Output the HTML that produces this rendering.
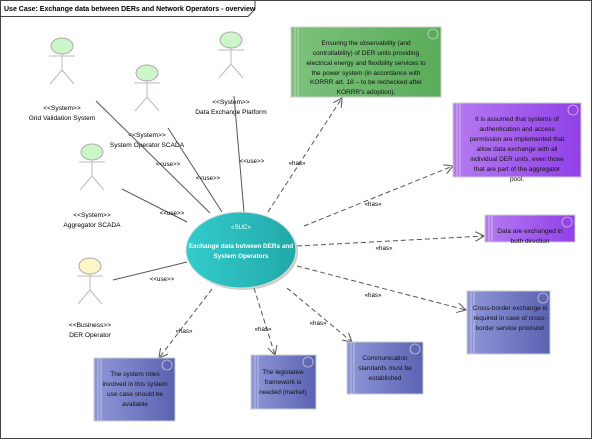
<!DOCTYPE html>
<html><head><meta charset="utf-8"><style>
html,body{margin:0;padding:0;background:#fff;}
svg{display:block;font-family:"Liberation Sans",sans-serif;}
.s{font-size:6.6px;fill:#000;text-anchor:middle;}
.b{font-size:6.5px;fill:#111;text-anchor:middle;}
.l{font-size:6.2px;fill:#000;text-anchor:middle;}
</style></head><body>
<svg width="600" height="441" viewBox="0 0 600 441" xmlns="http://www.w3.org/2000/svg">
<defs>
<linearGradient id="gt" x1="0" x2="1"><stop offset="0" stop-color="#33cccc"/><stop offset="1" stop-color="#22a8a8"/></linearGradient>
<linearGradient id="gg" x1="0" x2="1"><stop offset="0" stop-color="#7cc27c"/><stop offset="1" stop-color="#5aab5a"/></linearGradient>
<linearGradient id="gp" x1="0" x2="1"><stop offset="0" stop-color="#b57af0"/><stop offset="1" stop-color="#9040e8"/></linearGradient>
<linearGradient id="gb" x1="0" x2="1"><stop offset="0" stop-color="#8f96d8"/><stop offset="1" stop-color="#5b63b2"/></linearGradient>
<marker id="ar" markerWidth="10" markerHeight="10" refX="9" refY="5" orient="auto" markerUnits="userSpaceOnUse"><path d="M0,0 L9,5 L0,10" fill="none" stroke="#555" stroke-width="1"/></marker>
</defs>
<rect x="0.5" y="0.5" width="591" height="438" fill="#fff" stroke="#444"/>
<path d="M0.5,16.5 H248 L255,9 V0.5" fill="none" stroke="#444"/>
<text x="4" y="11" style="font-size:7px;font-weight:bold">Use Case: Exchange data between DERs and Network Operators - overview</text>

<g stroke="#bbb" stroke-width="1" fill="none">
<g transform="translate(62,46)"><ellipse rx="11" ry="8" fill="#ccf5c8" stroke="#aaa"/><path d="M-13,10H13M0,8V24M0,24L-12,38M0,24L12,38"/></g>
<g transform="translate(147,73)"><ellipse rx="11" ry="8" fill="#ccf5c8" stroke="#aaa"/><path d="M-13,10H13M0,8V24M0,24L-12,38M0,24L12,38"/></g>
<g transform="translate(231,40)"><ellipse rx="11" ry="8" fill="#ccf5c8" stroke="#aaa"/><path d="M-13,10H13M0,8V24M0,24L-12,38M0,24L12,38"/></g>
<g transform="translate(92,152)"><ellipse rx="11" ry="8" fill="#ccf5c8" stroke="#aaa"/><path d="M-13,10H13M0,8V24M0,24L-12,38M0,24L12,38"/></g>
<g transform="translate(90,266)"><ellipse rx="11" ry="8" fill="#fbf5c8" stroke="#aaa"/><path d="M-13,10H13M0,8V24M0,24L-12,38M0,24L12,38"/></g>
</g>
<text class="s" x="62" y="110">&lt;&lt;System&gt;&gt;</text><text class="s" x="62" y="120">Grid Validation System</text>
<text class="s" x="147" y="137">&lt;&lt;System&gt;&gt;</text><text class="s" x="147" y="147">System Operator SCADA</text>
<text class="s" x="231" y="104">&lt;&lt;System&gt;&gt;</text><text class="s" x="231" y="114">Data Exchange Platform</text>
<text class="s" x="92" y="217">&lt;&lt;System&gt;&gt;</text><text class="s" x="92" y="227">Aggregator SCADA</text>
<text class="s" x="90" y="327">&lt;&lt;Business&gt;&gt;</text><text class="s" x="90" y="337">DER Operator</text>

<g stroke="#555" stroke-width="1">
<line x1="96" y1="101" x2="210" y2="213"/>
<line x1="168" y1="128" x2="222" y2="212"/>
<line x1="234" y1="96" x2="244" y2="212"/>
<line x1="122" y1="189" x2="187" y2="222"/>
<line x1="113" y1="280" x2="187" y2="262"/>
</g>
<text class="l" x="168" y="166">&lt;&lt;use&gt;&gt;</text>
<text class="l" x="208" y="180">&lt;&lt;use&gt;&gt;</text>
<text class="l" x="252" y="163">&lt;&lt;use&gt;&gt;</text>
<text class="l" x="172" y="215">&lt;&lt;use&gt;&gt;</text>
<text class="l" x="162" y="281">&lt;&lt;use&gt;&gt;</text>

<g stroke="#555" stroke-width="1" stroke-dasharray="5,3" fill="none" marker-end="url(#ar)">
<line x1="268" y1="212" x2="342" y2="98"/>
<line x1="304" y1="226" x2="453" y2="166"/>
<line x1="297" y1="246" x2="484" y2="236"/>
<line x1="297" y1="266" x2="466" y2="310"/>
<line x1="287" y1="288" x2="352" y2="342"/>
<line x1="254" y1="288" x2="275" y2="355"/>
<line x1="212" y1="289" x2="159" y2="358"/>
</g>
<text class="l" x="297" y="165">«has»</text><text class="l" x="373" y="206">«has»</text><text class="l" x="384" y="250">«has»</text><text class="l" x="373" y="297">«has»</text><text class="l" x="318" y="325">«has»</text><text class="l" x="263" y="331">«has»</text><text class="l" x="184" y="333">«has»</text>

<ellipse cx="243" cy="252" rx="55" ry="38" fill="#999" opacity="0.5"/>
<ellipse cx="241" cy="250" rx="55" ry="38" fill="url(#gt)" stroke="#ddd"/>
<text x="241" y="229" style="font-size:6.2px;fill:#fff;text-anchor:middle">«SUC»</text>
<text x="241" y="248" style="font-size:6.4px;fill:#fff;font-weight:bold;text-anchor:middle">Exchange data between DERs and</text>
<text x="241" y="258" style="font-size:6.4px;fill:#fff;font-weight:bold;text-anchor:middle">System Operators</text>

<g stroke="#ccc" stroke-width="1">
<rect x="291" y="27" width="150" height="70" fill="url(#gg)"/>
<rect x="453" y="103" width="128" height="74" fill="url(#gp)"/>
<rect x="485" y="215" width="90" height="27" fill="url(#gp)"/>
<rect x="467" y="291" width="83" height="63" fill="url(#gb)"/>
<rect x="347" y="342" width="76" height="52" fill="url(#gb)"/>
<rect x="251" y="355" width="65" height="54" fill="url(#gb)"/>
<rect x="94" y="358" width="81" height="63" fill="url(#gb)"/>
</g>
<g stroke="#ddd" stroke-width="0.8" opacity="0.8">
<path d="M295,27V97M298,27V97"/><path d="M457,103V177M460,103V177"/><path d="M489,215V242M492,215V242"/>
<path d="M471,291V354M474,291V354"/><path d="M351,342V394M354,342V394"/><path d="M255,355V409M258,355V409"/><path d="M98,358V421M101,358V421"/>
</g>
<g fill="none" stroke="#ddd" stroke-width="0.8" opacity="0.8">
<circle cx="433" cy="34" r="5"/><circle cx="573" cy="110" r="5"/><circle cx="567" cy="222" r="5"/>
<circle cx="543" cy="298" r="5"/><circle cx="415" cy="349" r="5"/><circle cx="308" cy="362" r="5"/><circle cx="167" cy="365" r="5"/>
</g>
<text class="b" x="366" y="45">Ensuring the observability (and</text>
<text class="b" x="366" y="55">controllability) of DER units providing</text>
<text class="b" x="366" y="65">electrical energy and flexibility services to</text>
<text class="b" x="366" y="75">the power system (in accordance with</text>
<text class="b" x="366" y="84">KORRR art. 18 – to be rechecked after</text>
<text class="b" x="366" y="94">KORRR's adoption).</text>
<text class="b" x="517" y="121">It is assumed that systems of</text>
<text class="b" x="517" y="131">authentication and access</text>
<text class="b" x="517" y="141">permission are implemented that</text>
<text class="b" x="517" y="151">allow data exchange with all</text>
<text class="b" x="517" y="161">individual DER units, even those</text>
<text class="b" x="517" y="171">that are part of the aggregator</text>
<text class="b" x="517" y="181">pool.</text>
<text class="b" x="530" y="233">Data are exchanged in</text>
<text class="b" x="530" y="243">both direction</text>
<text class="b" x="510" y="310">Cross-border exchange is</text>
<text class="b" x="510" y="320">required in case of cross-</text>
<text class="b" x="510" y="330">border service provision</text>
<text class="b" x="385" y="360">Communication</text>
<text class="b" x="385" y="370">standards must be</text>
<text class="b" x="385" y="380">established</text>
<text class="b" x="283" y="374">The legislative</text>
<text class="b" x="283" y="384">framework is</text>
<text class="b" x="283" y="394">needed (market)</text>
<text class="b" x="135" y="376">The system roles</text>
<text class="b" x="135" y="386">involved in this system</text>
<text class="b" x="135" y="396">use case should be</text>
<text class="b" x="135" y="406">available</text>
</svg>
</body></html>
